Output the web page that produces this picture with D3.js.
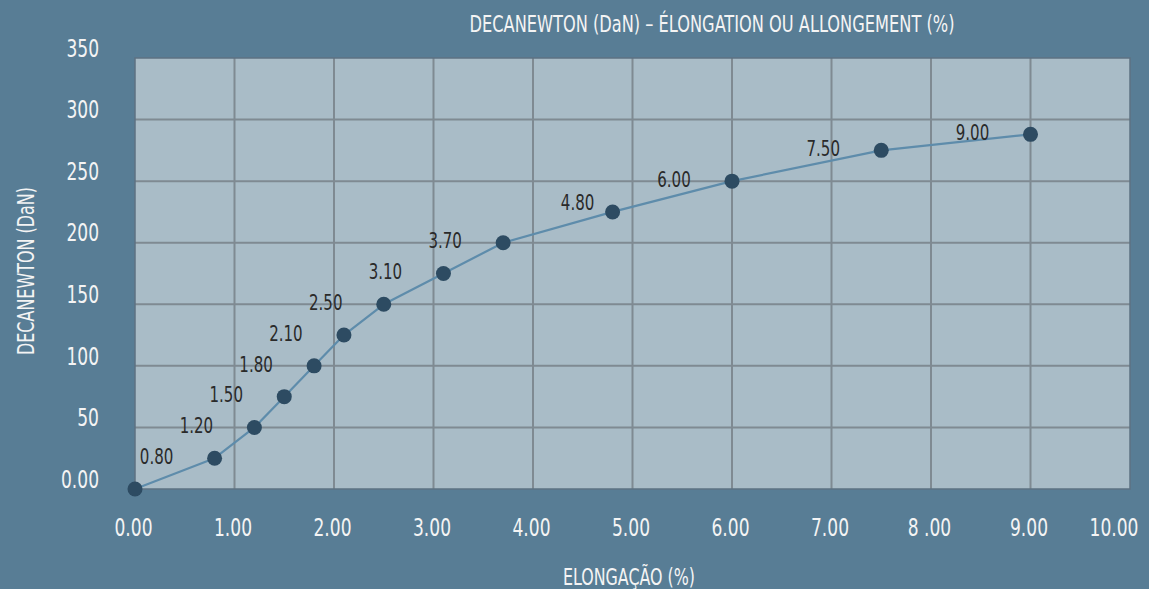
<!DOCTYPE html>
<html>
<head>
<meta charset="utf-8">
<script src="https://cdn.jsdelivr.net/npm/d3@7"></script>
<style>
  html, body { margin: 0; padding: 0; background: #587d95; }
  svg { display: block; }
  text { font-family: "DejaVu Sans Condensed", "Liberation Sans Narrow", sans-serif; }
</style>
</head>
<body>
<div id="chart"></div>
<script>
// elongation (%) and force (daN)
const elongation = [0, 0.8, 1.2, 1.5, 1.8, 2.1, 2.5, 3.1, 3.7, 4.8, 6.0, 7.5, 9.0]
const force = [0, 25, 50, 75, 100, 125, 150, 175, 200, 225, 250, 275, 288]
const pointLabels = ["", "0.80", "1.20", "1.50", "1.80", "2.10", "2.50", "3.10", "3.70", "4.80", "6.00", "7.50", "9.00"]
const xTicks = [0, 1, 2, 3, 4, 5, 6, 7, 8, 9, 10]
const xTickLabels = ["0.00", "1.00", "2.00", "3.00", "4.00", "5.00", "6.00", "7.00", "8 .00", "9.00", "10.00"]
const yTicks = [0, 50, 100, 150, 200, 250, 300, 350]
const yTickLabels = ["0.00", "50", "100", "150", "200", "250", "300", "350"]

const width = 1149,
      height = 589
const margin = { top: 58, right: 19, bottom: 100, left: 135 }
const innerW = width - margin.left - margin.right,
      innerH = height - margin.top - margin.bottom

// most labels sit left of their point, one is nudged
const labelDx = -58,
      labelNudge = { "4.80": [23, -10] }

// the reference font is very narrow, squeeze the condensed one a bit more
const squeeze = (sel, k) => sel.each(function () {
    const len = this.getComputedTextLength()
    d3.select(this)
        .attr("textLength", len * k)
        .attr("lengthAdjust", "spacingAndGlyphs")
})

const svg = d3.select("#chart")
    .append("svg")
    .attr("width", width)
    .attr("height", height)

svg.append("rect")
    .attr("width", width)
    .attr("height", height)
    .attr("fill", "#587d95")

const g = svg.append("g")
    .attr("transform", `translate(${margin.left}, ${margin.top})`)

const x = d3.scaleLinear().domain([0, 10]).range([0, innerW])
const y = d3.scaleLinear().domain([0, 350]).range([innerH, 0])

g.append("rect")
    .attr("width", innerW)
    .attr("height", innerH)
    .attr("fill", "#a9bcc7")

// grid
g.append("g")
    .selectAll("line")
    .data(xTicks.slice(1, -1))
    .join("line")
    .attr("x1", d => x(d)).attr("x2", d => x(d))
    .attr("y1", 0).attr("y2", innerH)
    .attr("stroke", "#7f8a92")
    .attr("stroke-width", 2)

g.append("g")
    .selectAll("line")
    .data(yTicks.slice(1, -1))
    .join("line")
    .attr("x1", 0).attr("x2", innerW)
    .attr("y1", d => y(d)).attr("y2", d => y(d))
    .attr("stroke", "#7f8a92")
    .attr("stroke-width", 2)

g.append("rect")
    .attr("width", innerW)
    .attr("height", innerH)
    .attr("fill", "none")
    .attr("stroke", "#5d7282")
    .attr("stroke-width", 1.5)

// axes as plain text labels
const xAxis = d3.axisBottom(x)
    .tickValues(xTicks)
    .tickSize(0)
    .tickPadding(29)
    .tickFormat((d, i) => xTickLabels[i])

const last = xTicks.length - 1

g.append("g")
    .attr("transform", `translate(0, ${innerH})`)
    .call(xAxis)
    .call(a => a.select(".domain").remove())
    .selectAll("text")
    .attr("fill", "#f4f4f4")
    .attr("font-size", "25px")
    .attr("text-anchor", (d, i) => i === last ? "end" : "middle")
    .attr("dx", (d, i) => i === last ? 8 : -2)
    .style("font-family", null)
    .call(squeeze, 0.76)

const yAxis = d3.axisLeft(y)
    .tickValues(yTicks)
    .tickSize(0)
    .tickPadding(36)
    .tickFormat((d, i) => yTickLabels[i])

g.append("g")
    .call(yAxis)
    .call(a => a.select(".domain").remove())
    .selectAll("text")
    .attr("fill", "#f4f4f4")
    .attr("font-size", "25px")
    .attr("dy", "-0.07em")
    .style("font-family", null)
    .call(squeeze, 0.76)

const data = elongation.map((e, i) => ({ e, f: force[i], label: pointLabels[i] }))

const line = d3.line()
    .x(d => x(d.e))
    .y(d => y(d.f))

g.append("path")
    .datum(data)
    .attr("d", line)
    .attr("fill", "none")
    .attr("stroke", "#5e8cab")
    .attr("stroke-width", 2.2)
    .attr("stroke-linejoin", "round")

g.append("g")
    .selectAll("circle")
    .data(data)
    .join("circle")
    .attr("cx", d => x(d.e))
    .attr("cy", d => y(d.f))
    .attr("r", 7.5)
    .attr("fill", "#2d4b62")

g.append("g")
    .selectAll("text")
    .data(data.filter(d => d.label))
    .join("text")
    .attr("x", d => x(d.e) + labelDx + (labelNudge[d.label] ? labelNudge[d.label][0] : 0))
    .attr("y", d => y(d.f) + (labelNudge[d.label] ? labelNudge[d.label][1] : -2))
    .attr("dy", "0.35em")
    .attr("text-anchor", "middle")
    .attr("font-size", "22px")
    .attr("fill", "#2a2a2a")
    .text(d => d.label)
    .call(squeeze, 0.76)

// titles
svg.append("text")
    .attr("x", 712)
    .attr("y", 24)
    .attr("dy", "0.35em")
    .attr("text-anchor", "middle")
    .attr("font-size", "23px")
    .attr("fill", "#f4f4f4")
    .attr("textLength", 485)
    .attr("lengthAdjust", "spacingAndGlyphs")
    .text("DECANEWTON (DaN) – ÉLONGATION OU ALLONGEMENT (%)")

svg.append("text")
    .attr("transform", `translate(26, 271) rotate(-90)`)
    .attr("dy", "0.35em")
    .attr("text-anchor", "middle")
    .attr("font-size", "23px")
    .attr("fill", "#f4f4f4")
    .attr("textLength", 168)
    .attr("lengthAdjust", "spacingAndGlyphs")
    .text("DECANEWTON (DaN)")

svg.append("text")
    .attr("x", 629)
    .attr("y", 585)
    .attr("text-anchor", "middle")
    .attr("font-size", "23px")
    .attr("fill", "#f4f4f4")
    .attr("textLength", 132)
    .attr("lengthAdjust", "spacingAndGlyphs")
    .text("ELONGAÇÃO (%)")
</script>
</body>
</html>
